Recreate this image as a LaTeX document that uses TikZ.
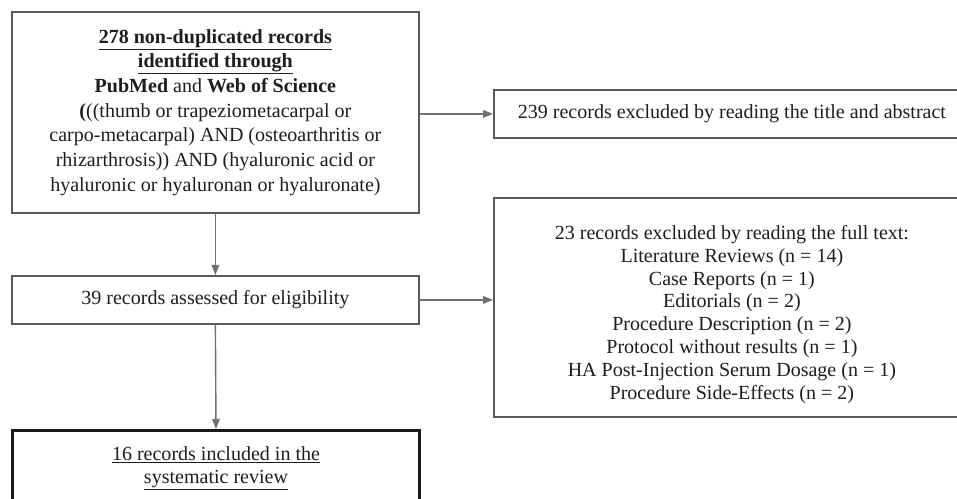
\documentclass[tikz,border=0pt]{standalone}
\usepackage{fontspec}
\setmainfont{Liberation Serif}
\usetikzlibrary{arrows.meta}
\definecolor{boxgray}{HTML}{5A5A5A}
\definecolor{linegray}{HTML}{707070}
\definecolor{txt}{HTML}{1E1E1E}
\begin{document}
\begin{tikzpicture}[x=1bp,y=-1bp,
  box/.style={draw=boxgray,line width=1.8bp,fill=white,inner sep=0pt,align=center,
    text=txt,font=\fontsize{20.1}{23}\selectfont,anchor=north west},
  label text/.style={inner sep=0pt,align=center,text=txt,font=\fontsize{20.1}{22.9}\selectfont},
  conn/.style={draw=linegray,line width=1.4bp,-{Triangle[length=10bp,width=7.5bp]}}]
\useasboundingbox (0,0) rectangle (957,499);
\clip (0,0) rectangle (957,499);
\fill[white] (0,0) rectangle (957,499);

\node[box,font=\fontsize{20.1}{24.8}\selectfont,minimum width=407bp,minimum height=201bp] (b1) at (11,11)
  {\textbf{\underline{278 non-duplicated records}}\\
   \textbf{\underline{identified through}}\\
   \textbf{PubMed} and \textbf{Web of Science}\\
   \textbf{(}((thumb or trapeziometacarpal or\\
   carpo-metacarpal) AND (osteoarthritis or\\
   rhizarthrosis)) AND (hyaluronic acid or\\
   hyaluronic or hyaluronan or hyaluronate)};

\node[box,minimum width=476bp,minimum height=48bp] (b239) at (493,89)
  {239 records excluded by reading the title and abstract};

\node[box,minimum width=407bp,minimum height=48bp] (b39) at (11,275)
  {39 records assessed for eligibility};

\node[box,minimum width=476bp,minimum height=219bp] (b23) at (493,197) {};
\node[label text] (b23t) at ([yshift=-7bp]b23.center)
  {23 records excluded by reading the full text:\\
   Literature Reviews (n = 14)\\
   Case Reports (n = 1)\\
   Editorials (n = 2)\\
   Procedure Description (n = 2)\\
   Protocol without results (n = 1)\\
   HA Post-Injection Serum Dosage (n = 1)\\
   Procedure Side-Effects (n = 2)};

\node[box,draw=black!90,line width=3bp,minimum width=407bp,minimum height=76bp] (b16) at (11,429)
  {\underline{16 records included in the}\\
   \underline{systematic review}};

\draw[conn] (b1.south) -- (b39.north);
\draw[conn] (b39.south) -- (b16.north);
\draw[conn] (b1.east |- b239.west) -- (b239.west);
\draw[conn] (b39.east) -- (b39.east -| b23.west);
\end{tikzpicture}
\end{document}
